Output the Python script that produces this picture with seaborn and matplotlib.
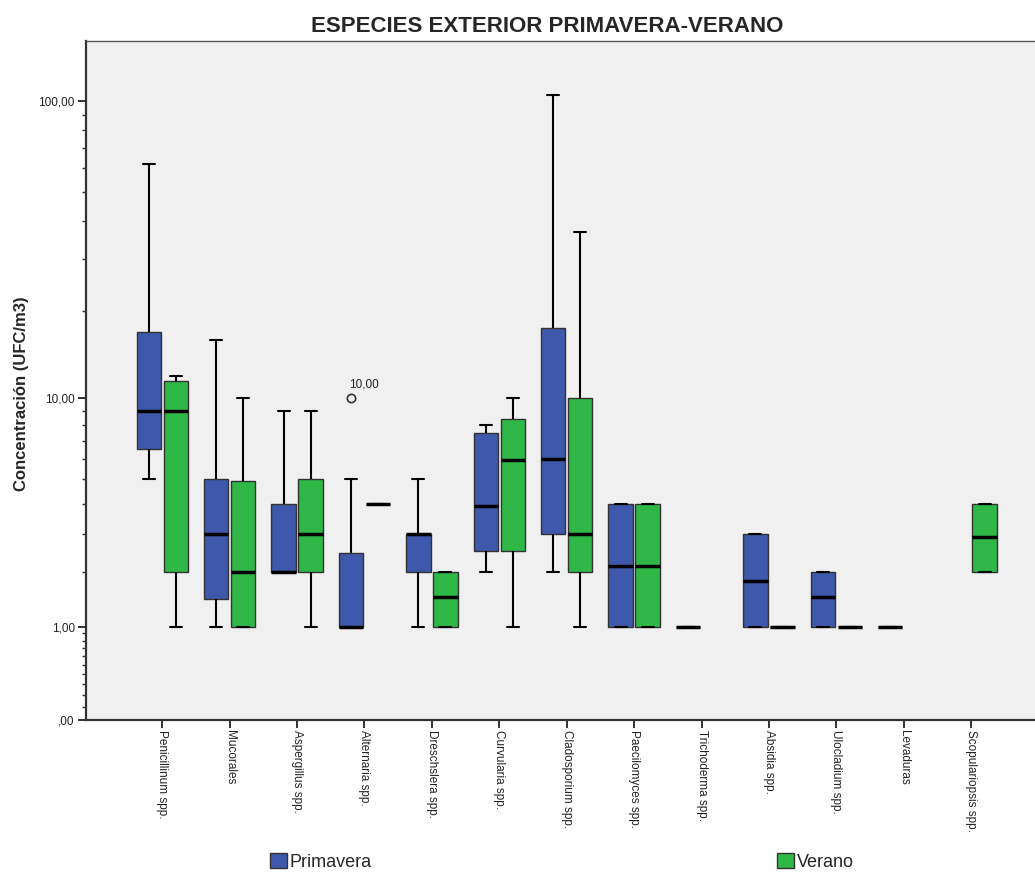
import numpy as np
import pandas as pd
import matplotlib
matplotlib.use("Agg")
import matplotlib.pyplot as plt
import seaborn as sns
from matplotlib.ticker import FixedLocator

# ---------------- data ----------------
especies = ["Penicillinum spp.", "Mucorales", "Aspergillus spp.", "Alternaria spp.",
            "Dreschslera spp.", "Curvularia spp.", "Cladosporium spp.", "Paecilomyces spp.",
            "Trichoderma spp.", "Absidia spp.", "Ulocladium spp.", "Levaduras",
            "Scopulariopsis spp."]
estaciones = ["Primavera", "Verano"]
nan = np.nan

# Primavera: whisker low, Q1, median, Q3, whisker high
prim_min = [5.0, 1.0, 2.0, 1.0, 1.0, 2.0, 2.0, 1.0, 1.0, 1.0, 1.0, 1.0, nan]
prim_q1  = [6.5, 1.45, 2.0, 1.0, 2.0, 2.5, 3.0, 1.0, 1.0, 1.0, 1.0, 1.0, nan]
prim_med = [9.0, 3.0, 2.0, 1.0, 3.0, 3.9, 6.0, 2.15, 1.0, 1.8, 1.5, 1.0, nan]
prim_q3  = [17.0, 5.0, 4.0, 2.45, 3.0, 7.5, 17.5, 4.0, 1.0, 3.0, 2.0, 1.0, nan]
prim_max = [62.0, 16.0, 9.0, 5.0, 5.0, 8.0, 104.0, 4.0, 1.0, 3.0, 2.0, 1.0, nan]

# Verano
ver_min = [1.0, 1.0, 1.0, 4.0, 1.0, 1.0, 1.0, 1.0, nan, 1.0, 1.0, nan, 2.0]
ver_q1  = [2.0, 1.0, 2.0, 4.0, 1.0, 2.5, 2.0, 1.0, nan, 1.0, 1.0, nan, 2.0]
ver_med = [9.0, 2.0, 3.0, 4.0, 1.5, 5.9, 3.0, 2.15, nan, 1.0, 1.0, nan, 2.9]
ver_q3  = [11.5, 4.9, 5.0, 4.0, 2.0, 8.4, 10.0, 4.0, nan, 1.0, 1.0, nan, 4.0]
ver_max = [12.0, 10.0, 9.0, 4.0, 2.0, 10.0, 37.0, 4.0, nan, 1.0, 1.0, nan, 4.0]

# outliers
out_especie = ["Alternaria spp."]
out_estacion = ["Primavera"]
out_valor = [10.0]

y_ticks = [0, 1, 10, 100]
y_ticklabels = [",00", "1,00", "10,00", "100,00"]

colores = {"Primavera": "#3E58AB", "Verano": "#2FB848"}

# ---------------- build long table ----------------
rows = []
for est, stats in (("Primavera", (prim_min, prim_q1, prim_med, prim_q3, prim_max)),
                   ("Verano", (ver_min, ver_q1, ver_med, ver_q3, ver_max))):
    for i, sp in enumerate(especies):
        vals = [s[i] for s in stats]
        if np.isnan(vals[0]):
            continue
        for v in vals:
            rows.append({"especie": sp, "estacion": est, "valor": v})
df = pd.DataFrame(rows)
df_out = pd.DataFrame({"especie": out_especie, "estacion": out_estacion, "valor": out_valor})

# ---------------- plot ----------------
sns.set_style("ticks")
plt.rcParams["font.family"] = ["Liberation Sans", "DejaVu Sans"]

fig = plt.figure(figsize=(10.35, 8.72), dpi=100)
ax = fig.add_axes([86 / 1035, (872 - 719.5) / 872, 1 - 86 / 1035, 678.5 / 872])
ax.set_facecolor("#F0F0F0")

sns.boxplot(data=df, x="especie", y="valor", hue="estacion", order=especies,
            hue_order=estaciones, palette=colores, saturation=1, width=0.8, gap=0.1,
            whis=(0, 100), showfliers=False, linecolor="#333333", linewidth=1.0,
            medianprops=dict(color="black", linewidth=2.5),
            whiskerprops=dict(color="black", linewidth=1.5),
            capprops=dict(color="black", linewidth=1.5),
            ax=ax)

n_before = len(ax.collections)
sns.stripplot(data=df_out, x="especie", y="valor", hue="estacion", order=especies,
              hue_order=estaciones, dodge=True, jitter=False,
              palette={"Primavera": "#F0F0F0", "Verano": "#F0F0F0"},
              size=6, linewidth=1.2, edgecolor="#333333", legend=False, ax=ax)

# label the outlier(s)
pts = [np.asarray(c.get_offsets()) for c in ax.collections[n_before:]]
pts = np.vstack([p for p in pts if p.size]) if any(p.size for p in pts) else np.empty((0, 2))
for px, py in pts:
    ax.annotate(f"{py:.2f}".replace(".", ","), (px, py), xytext=(-1.5, 5),
                textcoords="offset points", ha="left", va="bottom",
                fontsize=8.5, color="#222222")

# scale log10(x+1)
ax.set_yscale("function", functions=(lambda v: np.log10(np.asarray(v) + 1.0),
                                      lambda v: 10 ** np.asarray(v) - 1.0))
ax.set_ylim(0, 156.5)
ax.set_xlim(-1.132, 12.948)

ax.yaxis.set_major_locator(FixedLocator(y_ticks))
ax.set_yticklabels(y_ticklabels)
minor = [m / 10 for m in range(1, 10)] + list(range(2, 10)) + list(range(20, 100, 10))
ax.yaxis.set_minor_locator(FixedLocator(minor))
ax.tick_params(axis="y", which="major", length=6, width=1.3, labelsize=8.5, pad=2,
               colors="#222222")
ax.tick_params(axis="y", which="minor", length=3, width=1.0, colors="#333333")

ax.set_xticks(range(len(especies)))
ax.set_xticklabels(especies, rotation=270, ha="center", va="top", fontsize=8.5)
ax.tick_params(axis="x", which="major", length=6, width=1.3, pad=1.5, colors="#222222")

for s in ("left", "bottom"):
    ax.spines[s].set_color("#333333")
    ax.spines[s].set_linewidth(1.6)
ax.spines["top"].set_visible(True)
ax.spines["top"].set_color("#555555")
ax.spines["top"].set_linewidth(1.0)
ax.spines["right"].set_visible(False)

ax.set_xlabel("")
ax.set_ylabel("")

# legend split into two entries, as in the reference
leg = ax.get_legend()
handles = list(leg.legend_handles)
labels = [t.get_text() for t in leg.get_texts()]
leg.remove()
for h, l, xpx in zip(handles, labels, (270, 777)):
    fig.legend([h], [l], loc="lower left", bbox_to_anchor=(xpx / 1035, 1.5 / 872),
               frameon=False, fontsize=13, handlelength=0.95, handleheight=0.95,
               handletextpad=0.15, borderpad=0, borderaxespad=0)

fig.text(547 / 1035, 1 - 27 / 872, "ESPECIES EXTERIOR PRIMAVERA-VERANO",
         ha="center", va="center", fontsize=16, fontweight="bold")
fig.text(22 / 1035, 1 - 394 / 872, "Concentración (UFC/m3)", rotation=90,
         ha="center", va="center", fontsize=12, fontweight="bold")

fig.savefig("out.png", dpi=100, facecolor="white")
